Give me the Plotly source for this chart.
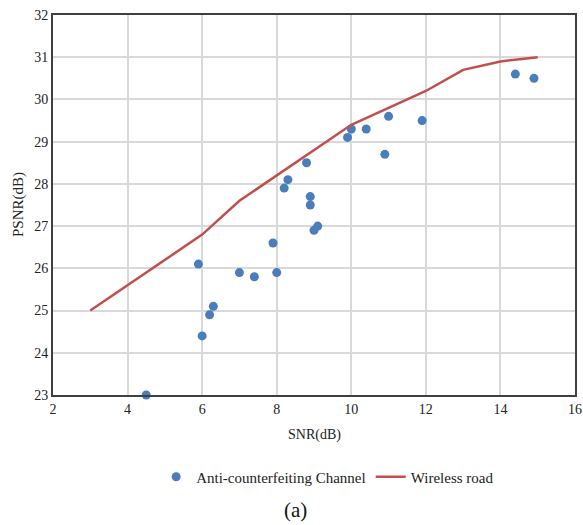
import plotly.graph_objects as go

# Data
scatter_snr = [4.5, 5.9, 6.0, 6.2, 6.3, 7.0, 7.4, 7.9, 8.0, 8.2, 8.3, 8.8, 8.9, 8.9,
               9.0, 9.1, 9.9, 10.0, 10.4, 10.9, 11.0, 11.9, 14.4, 14.9]
scatter_psnr = [23.0, 26.1, 24.4, 24.9, 25.1, 25.9, 25.8, 26.6, 25.9, 27.9, 28.1, 28.5, 27.7, 27.5,
                26.9, 27.0, 29.1, 29.3, 29.3, 28.7, 29.6, 29.5, 30.6, 30.5]
line_snr = [3, 4, 5, 6, 7, 8, 9, 10, 11, 12, 13, 14, 15]
line_psnr = [25.0, 25.6, 26.2, 26.8, 27.6, 28.2, 28.8, 29.4, 29.8, 30.2, 30.7, 30.9, 31.0]
x_ticks = [2, 4, 6, 8, 10, 12, 14, 16]
y_ticks = [23, 24, 25, 26, 27, 28, 29, 30, 31, 32]

series_names = ["Anti-counterfeiting Channel", "Wireless road"]

FONT = "Liberation Serif"

fig = go.Figure()
fig.add_trace(go.Scatter(
    x=scatter_snr, y=scatter_psnr, mode="markers", name=series_names[0],
    marker=dict(color="#4A7EBB", size=9), cliponaxis=False,
))
fig.add_trace(go.Scatter(
    x=line_snr, y=line_psnr, mode="lines", name=series_names[1],
    line=dict(color="#C0504D", width=2.5),
))

fig.update_layout(
    width=583, height=525,
    margin=dict(l=53, r=8, t=15, b=130, autoexpand=False),
    paper_bgcolor="white", plot_bgcolor="white",
    font=dict(family=FONT, size=14, color="#222222"),
    showlegend=True,
    legend=dict(orientation="h", x=0.562, xanchor="center", xref="container",
                y=0.0914, yanchor="middle", yref="container",
                font=dict(family=FONT, size=15, color="#222222"),
                itemwidth=30, tracegroupgap=0),
    xaxis=dict(range=[2, 16], tickvals=x_ticks, showgrid=True, gridcolor="#D9D9D9", gridwidth=1.5,
               showline=True, linecolor="#404040", linewidth=2, mirror=True, automargin=False,
               ticks="", tickfont=dict(family=FONT, size=14, color="#222222"), zeroline=False),
    yaxis=dict(range=[23, 32], tickvals=y_ticks, showgrid=True, gridcolor="#D9D9D9", gridwidth=1.5,
               showline=True, linecolor="#404040", linewidth=2, mirror=True, automargin=False,
               ticks="", tickfont=dict(family=FONT, size=14, color="#222222"), zeroline=False),
    annotations=[
        dict(text="SNR(dB)", xref="paper", yref="paper", x=0.5, y=-0.105, showarrow=False,
             xanchor="center", yanchor="middle", font=dict(family=FONT, size=14, color="#222222")),
        dict(text="PSNR(dB)", xref="paper", yref="paper", x=-0.067, y=0.5, showarrow=False,
             textangle=-90, xanchor="center", yanchor="middle",
             font=dict(family=FONT, size=15, color="#222222")),
        dict(text="(a)", xref="paper", yref="paper", x=0.465, y=-0.3026, showarrow=False,
             xanchor="center", yanchor="middle", font=dict(family=FONT, size=21, color="#111111")),
    ],
)

# remove the default 8px page margin so the figure fills the 583x525 window exactly
fig.write_html("out.html",
               config={"displayModeBar": False},
               post_script="document.body.style.margin='0';document.body.style.overflow='hidden';")
